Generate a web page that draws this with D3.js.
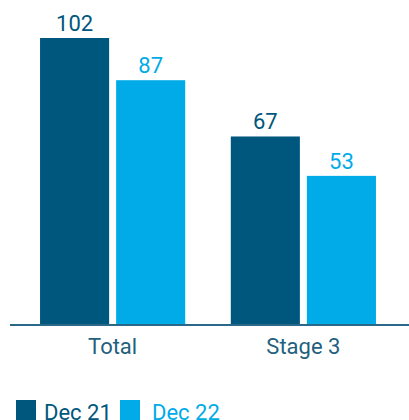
<!DOCTYPE html>
<html>
<head>
<meta charset="utf-8">
<script src="https://cdn.jsdelivr.net/npm/d3@7"></script>
<style>
  html, body { margin: 0; padding: 0; background: #fff; overflow: hidden; }
  svg { display: block; font-family: "Roboto Slab", Roboto, "Noto Sans", sans-serif; }
</style>
</head>
<body>
<svg id="chart" width="409" height="420"></svg>
<script>
// Chart data
const categories = ["Total", "Stage 3"];
const seriesNames = ["Dec 21", "Dec 22"];
const dec21 = [102, 67];
const dec22 = [87, 53];
const seriesColors = ["#00577d", "#00abe7"];

const values = [dec21, dec22];
const svg = d3.select("#chart");

const baseline = 325;
const x0 = d3.scaleBand().domain(categories).range([17.25, 398.75])
  .paddingInner(0.239).paddingOuter(0.1195);
const x1 = d3.scaleBand().domain(seriesNames).range([0, x0.bandwidth()])
  .paddingInner(0.092).paddingOuter(0);
const y = d3.scaleLinear().domain([0, 102]).range([baseline, 38]);

const rows = categories.map((c, i) => ({
  cat: c,
  items: seriesNames.map((s, j) => ({ s, j, v: values[j][i] }))
}));

const groups = svg.append("g").selectAll("g").data(rows).join("g")
  .attr("transform", d => `translate(${x0(d.cat)},0)`);

groups.selectAll("rect").data(d => d.items).join("rect")
  .attr("x", d => x1(d.s))
  .attr("width", x1.bandwidth())
  .attr("y", d => y(d.v))
  .attr("height", d => y(0) - y(d.v))
  .attr("fill", d => seriesColors[d.j]);

groups.selectAll("text.val").data(d => d.items).join("text")
  .attr("class", "val")
  .attr("x", d => x1(d.s) + x1.bandwidth() / 2)
  .attr("y", d => y(d.v) - 7)
  .attr("text-anchor", "middle")
  .attr("font-size", 22)
  .attr("fill", d => seriesColors[d.j])
  .text(d => d.v);

// Baseline axis with category labels
const axis = d3.axisBottom(x0).tickSize(0).tickPadding(13);
const ax = svg.append("g").attr("transform", `translate(0,${baseline})`).call(axis);
ax.select(".domain").remove();
ax.append("line").attr("x1", 10).attr("x2", 409).attr("y1", 0).attr("y2", 0)
  .attr("stroke", "#2a6788").attr("stroke-width", 2.2);
ax.selectAll(".tick text")
  .attr("font-size", 22)
  .attr("font-family", "Roboto, sans-serif")
  .attr("fill", "#245f7e");

// Legend
const legend = svg.append("g").attr("transform", "translate(16,400)");
const legendX = [0, 104];
const li = legend.selectAll("g").data(seriesNames).join("g")
  .attr("transform", (d, i) => `translate(${legendX[i]},0)`);
li.append("rect").attr("width", 20).attr("height", 20)
  .attr("fill", (d, i) => seriesColors[i]);
li.append("text").attr("x", (d, i) => i === 0 ? 28 : 32).attr("y", 20)
  .attr("font-size", 22)
  .attr("fill", (d, i) => seriesColors[i])
  .text(d => d);
</script>
</body>
</html>
